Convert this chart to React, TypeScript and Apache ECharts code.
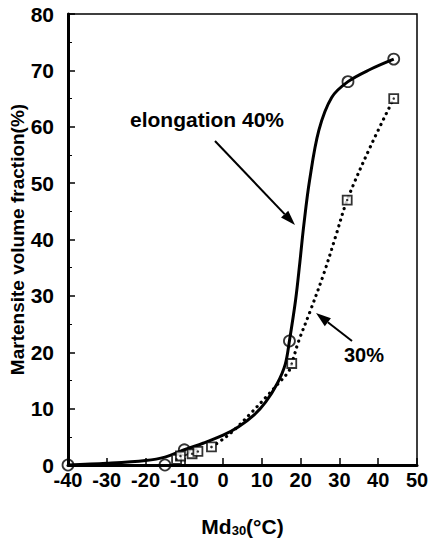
import React, { useEffect, useRef } from "react";
import * as echarts from "echarts";

// Measured points, elongation 40% (circles)
const circles40: [number, number][] = [
  [-40, 0], [-15, 0], [-10, 2.7], [17.1, 22], [32.2, 68], [44, 72],
];
// Measured points, 30% (squares)
const squares30: [number, number][] = [
  [-12, 1], [-11, 1.6], [-8, 2], [-6.5, 2.4], [-3, 3.2], [17.7, 18], [32, 47], [44, 65],
];
// Fitted curve, elongation 40% (solid)
const curve40: [number, number][] = [
  [-40, 0], [-30, 0.3], [-20, 0.8], [-15, 1.4], [-10, 2.7], [-5, 3.9], [0, 5.3],
  [4, 6.8], [8, 8.9], [11, 11.2], [14, 14.5], [16, 17.8], [17.1, 22], [18.7, 29.3],
  [19.8, 36], [20.8, 42.5], [22.3, 50.5], [24.7, 59.4], [28, 65.2], [32.2, 68],
  [38, 70.2], [44, 72],
];
// Fitted curve, 30% (dotted)
const curve30: [number, number][] = [
  [-3, 3.2], [0, 4.6], [3, 6.3], [7.3, 9.3], [11, 12], [14.3, 14.5], [16.9, 16.6],
  [17.7, 18], [19.5, 22], [22.3, 27], [26, 34], [29, 40.5], [32, 47], [38, 56.5], [44, 65],
];
const xTicks = [-40, 50, 10];
const yTicks = [0, 80, 10];

const FONT = "'Liberation Sans', Arial, Helvetica, sans-serif";

export default function App() {
  const ref = useRef<HTMLDivElement>(null);
  useEffect(() => {
    if (!ref.current) return;
    const chart = echarts.init(ref.current, null, { renderer: "svg" });
    const arrow = (x1: number, y1: number, x2: number, y2: number) => {
      const dx = x2 - x1, dy = y2 - y1;
      const len = Math.hypot(dx, dy);
      const ux = dx / len, uy = dy / len;
      const hl = 15, hw = 5;
      const bx = x2 - ux * hl, by = y2 - uy * hl;
      const px = -uy * hw, py = ux * hw;
      return [
        { type: "line", shape: { x1, y1, x2: bx, y2: by }, style: { stroke: "#000", lineWidth: 2 } },
        {
          type: "polygon",
          shape: { points: [[x2, y2], [bx + px, by + py], [bx - px, by - py]] },
          style: { fill: "#000" },
        },
      ];
    };
    chart.setOption({
      animation: false,
      backgroundColor: "#fff",
      grid: {
        left: 68, top: 14, right: 13, bottom: 77,
        containLabel: false, outerBoundsMode: "none",
        show: true, borderColor: "#000", borderWidth: 1.5, backgroundColor: "transparent",
      },
      xAxis: {
        type: "value", min: xTicks[0], max: xTicks[1], interval: xTicks[2],
        axisLine: { onZero: false, lineStyle: { color: "#000", width: 3 } },
        axisTick: { inside: true, length: 7, lineStyle: { color: "#000", width: 1.5 } },
        splitLine: { show: false },
        axisLabel: { color: "#000", fontFamily: FONT, fontWeight: "bold", fontSize: 20, margin: 5 },
        name: "{a|Md}{b|30}{a|(°C)}",
        nameLocation: "middle",
        nameGap: 50,
        nameMoveOverlap: false,
        nameTextStyle: {
          rich: {
            a: { fontFamily: FONT, fontWeight: "bold", fontSize: 21, color: "#000" },
            b: { fontFamily: FONT, fontWeight: "bold", fontSize: 13, color: "#000", verticalAlign: "bottom", padding: [9, 0, 0, 0] },
          },
        },
      },
      yAxis: {
        type: "value", min: yTicks[0], max: yTicks[1], interval: yTicks[2],
        axisLine: { onZero: false, lineStyle: { color: "#000", width: 3 } },
        axisTick: { inside: true, length: 7, lineStyle: { color: "#000", width: 1.5 } },
        minorTick: { show: true, splitNumber: 2, length: 4, lineStyle: { color: "#000", width: 1 } },
        splitLine: { show: false },
        axisLabel: { color: "#000", fontFamily: FONT, fontWeight: "bold", fontSize: 21, margin: 14 },
        name: "Martensite volume fraction(%)",
        nameLocation: "middle",
        nameGap: 41,
        nameMoveOverlap: false,
        nameTextStyle: { color: "#000", fontFamily: FONT, fontWeight: "bold", fontSize: 19 },
      },
      series: [
        {
          type: "line", data: curve40, smooth: 0.35, symbol: "none",
          lineStyle: { color: "#000", width: 3 }, z: 2,
        },
        {
          type: "line", data: curve30, smooth: 0.35, symbol: "none",
          lineStyle: { color: "#000", width: 3.2, type: [0.1, 6], cap: "round" }, z: 2,
        },
        {
          type: "scatter", data: circles40, symbol: "circle", symbolSize: 11,
          itemStyle: { color: "rgba(255,255,255,0)", borderColor: "#000", borderWidth: 1.8 }, z: 3,
        },
        {
          type: "scatter", data: squares30, symbol: "rect", symbolSize: 9,
          itemStyle: { color: "#fff", borderColor: "#000", borderWidth: 1.8 }, z: 3,
        },
        {
          type: "scatter", data: squares30, symbol: "circle", symbolSize: 2.5,
          itemStyle: { color: "#000" }, z: 4,
        },
      ],
      graphic: [
        {
          type: "text", left: 130, top: 109,
          style: { text: "elongation 40%", fill: "#000", font: `bold 21px ${FONT}` },
        },
        {
          type: "text", left: 344, top: 345,
          style: { text: "30%", fill: "#000", font: `bold 20px ${FONT}` },
        },
        ...arrow(215, 141, 295, 225),
        ...arrow(352, 341, 316, 313),
      ],
    });
    return () => chart.dispose();
  }, []);
  return (
    <div
      ref={ref}
      style={{ position: "fixed", left: 0, top: 0, width: 430, height: 542 }}
    />
  );
}
